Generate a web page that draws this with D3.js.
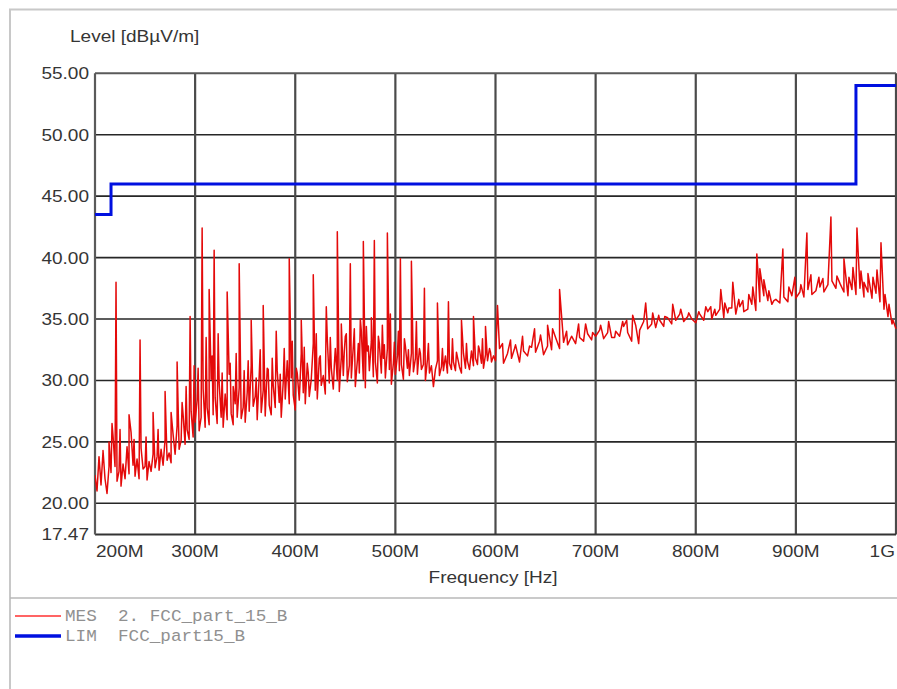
<!DOCTYPE html>
<html>
<head>
<meta charset="utf-8">
<script src="https://cdn.jsdelivr.net/npm/d3@7/dist/d3.min.js"></script>
<style>
  html, body { margin: 0; padding: 0; background: #fff; }
  svg { display: block; }
</style>
</head>
<body>
<svg id="chart" width="897" height="689"></svg>
<script>
// ---------------- DATA ----------------
// Axis ticks
const xTickValues = [200, 300, 400, 500, 600, 700, 800, 900, 1000];           // MHz
const xTickLabels = ["200M", "300M", "400M", "500M", "600M", "700M", "800M", "900M", "1G"];
const yTickValues = [17.47, 20, 25, 30, 35, 40, 45, 50, 55];
const yTickLabels = ["17.47", "20.00", "25.00", "30.00", "35.00", "40.00", "45.00", "50.00", "55.00"];

// Measurement (MES) noise floor, sweep 200–598 MHz in 2 MHz steps
const mesLowStartMHz = 200, mesLowStepMHz = 2;
const mesLowLevels = [
  22.3, 21.0, 23.8, 21.5, 24.2, 22.0, 20.8, 23.0, 22.5, 25.5, 23.0, 21.8, 22.6, 21.4, 23.2, 22.0, 24.6, 22.4, 25.8, 23.1,
  22.2, 23.6, 22.0, 24.5, 22.8, 23.0, 21.9, 23.4, 22.6, 24.0, 22.9, 23.8, 22.7, 24.4, 23.1, 25.2, 23.5, 24.1, 23.3, 25.6,
  24.0, 26.3, 24.4, 25.1, 27.2, 24.8, 26.0, 25.2, 27.5, 25.4, 26.6, 28.4, 25.9, 27.0, 29.3, 26.2, 27.8, 26.4, 30.1, 27.2,
  28.6, 26.5, 29.8, 27.0, 26.2, 28.9, 26.8, 30.5, 27.3, 26.4, 28.1, 27.0, 29.4, 26.9, 27.8, 26.6, 29.0, 27.5, 31.2, 27.9,
  28.7, 26.8, 30.4, 27.4, 29.2, 27.1, 31.0, 28.0, 27.2, 29.6, 27.8, 30.8, 28.2, 27.0, 29.9, 28.5, 31.6, 28.1, 30.2, 28.8,
  27.6, 30.6, 28.4, 32.2, 29.0, 28.1, 31.4, 28.7, 30.1, 33.0, 29.2, 28.5, 31.8, 29.6, 30.4, 28.9, 33.4, 29.8, 31.0, 29.3,
  32.6, 30.0, 29.1, 31.9, 30.4, 33.6, 29.9, 31.2, 30.2, 32.8, 29.5, 31.6, 30.6, 34.0, 30.1, 29.4, 32.4, 30.8, 33.2, 30.3,
  31.5, 29.8, 33.0, 30.6, 31.8, 30.2, 32.6, 30.9, 29.7, 31.4, 30.5, 32.0, 30.8, 31.3, 30.1, 32.8, 31.0, 30.4, 32.2, 30.7,
  31.8, 30.5, 32.6, 30.9, 31.3, 30.0, 31.7, 30.6, 31.2, 29.5, 30.9, 31.6, 30.4, 31.1, 30.8, 32.0, 30.6, 31.4, 30.9, 31.5,
  30.8, 31.9, 31.1, 30.6, 32.2, 31.0, 31.6, 30.9, 32.4, 31.2, 31.8, 31.3, 32.5, 31.4, 31.0, 32.1, 31.6, 32.6, 31.5, 32.0
];
// Measurement noise floor, sweep 600–1000 MHz in 4 MHz steps
const mesHighStartMHz = 600, mesHighStepMHz = 4;
const mesHighLevels = [
  31.6, 32.6, 31.4, 32.2, 31.8, 32.9, 31.5, 32.4, 32.0, 32.7,
  32.3, 33.2, 32.1, 32.8, 32.5, 33.5, 32.6, 33.1, 32.9, 33.6,
  33.0, 33.5, 33.2, 33.8, 33.3, 33.6, 34.1, 33.4, 33.9, 33.5,
  34.0, 33.6, 34.4, 33.9, 33.2, 34.5, 34.1, 34.8, 34.2, 34.6,
  34.3, 34.9, 34.4, 35.1, 34.6, 34.9, 35.4, 34.8, 35.2, 35.0,
  34.7, 35.4, 34.9, 35.6, 35.0, 35.3, 35.8, 35.1, 35.5, 35.9,
  35.4, 36.0, 35.6, 35.8, 36.2, 35.7, 36.4, 36.9, 36.5, 36.2,
  36.6, 36.3, 36.8, 36.4, 36.9, 36.7, 37.2, 36.8, 37.4, 37.0,
  37.3, 37.6, 37.2, 37.8, 38.1, 37.5, 37.9, 37.2, 36.9, 37.4,
  37.0, 37.5, 36.8, 37.2, 36.7, 37.1, 36.4, 35.8, 35.2, 34.6,
  34.2
];
// Measurement peaks (harmonics)
const peakFreqs = [221, 234, 245, 258, 270, 282, 295, 307, 314, 319, 332, 338, 344, 356, 368, 381, 394, 406, 418, 431,
                   442, 455, 468, 479, 492, 505, 516, 529, 542, 553, 566, 578, 590, 602, 615, 639, 652, 664, 690, 727,
                   750, 777, 810, 825, 837, 847, 861, 864, 878, 887, 899, 911, 923, 935, 948, 961, 972, 985, 997];
const peakLevels = [38.0, 27.2, 33.3, 27.4, 29.1, 31.5, 35.2, 42.4, 37.4, 40.6, 37.2, 29.5, 39.5, 34.9, 36.1, 34.0, 39.9, 34.9, 38.6, 36.0,
                    42.1, 39.5, 41.3, 41.4, 42.0, 39.9, 39.7, 37.5, 36.3, 36.4, 34.9, 35.2, 34.4, 36.1, 33.3, 34.2, 34.5, 37.4, 34.6, 34.8,
                    36.3, 36.2, 36.0, 37.4, 38.0, 36.5, 40.3, 39.1, 36.5, 40.7, 38.4, 42.0, 38.4, 43.3, 39.9, 42.4, 38.7, 41.2, 34.9];
// Minor spurs around the harmonics
const spurFreqs = [208, 214, 217, 225, 239, 251, 263, 276, 287, 291, 299,
                   303, 311, 317, 323, 327, 335, 341, 349, 353, 361, 365, 373, 377, 385, 389, 397,
                   401, 409, 413, 421, 425, 435, 439, 446, 449, 451, 459, 463, 465, 471, 473, 476, 483, 487, 489, 495, 499,
                   503, 509, 513, 521, 525, 533, 547, 557, 561, 571, 583, 587, 595,
                   607, 619, 627, 634, 645, 657, 671, 683, 697, 705, 713, 719, 731, 737, 743, 757, 763, 769, 785, 793,
                   803, 815, 819, 829, 833, 843, 853, 857, 868, 873, 893, 905, 915, 927, 941, 953, 957, 965, 968, 977, 981, 989, 993];
const spurLevels = [24.3, 25.0, 26.5, 26.0, 25.2, 25.4, 26.0, 27.4, 28.2, 29.5, 31.2,
                    31.0, 33.5, 32.0, 33.8, 30.6, 31.4, 32.2, 30.8, 31.6, 30.2, 32.5, 30.9, 31.8, 30.5, 32.6, 33.2,
                    31.0, 32.7, 30.6, 33.8, 32.0, 33.5, 31.2, 34.6, 32.4, 33.8, 34.2, 33.0, 35.0, 34.4, 32.8, 35.1, 33.6, 34.5, 32.9, 35.4, 33.1,
                    34.0, 33.4, 32.5, 34.8, 32.2, 33.0, 32.6, 33.4, 32.3, 33.0, 32.8, 33.4, 32.3,
                    33.0, 32.6, 33.6, 32.8, 33.7, 34.2, 34.0, 34.6, 33.9, 34.5, 34.8, 33.5, 34.9, 35.3, 33.0, 35.5, 35.3, 35.2, 35.8, 35.5,
                    35.6, 36.0, 35.8, 36.3, 35.9, 36.6, 37.0, 37.6, 38.2, 37.3, 37.6, 37.8, 38.6, 38.3, 38.5, 38.4, 39.2, 38.9, 38.0, 38.4, 39.0, 37.0, 36.2];

// Limit (LIM) FCC part 15 B, step function
const limFreqs = [200, 216, 960, 1000];
const limLevels = [43.5, 46.0, 54.0, 54.0];

const legendNames = ["MES", "LIM"];
const legendTexts = ["2. FCC_part_15_B", "FCC_part15_B"];
const yAxisTitle = "Level [dB\u00B5V/m]";
const xAxisTitle = "Frequency [Hz]";

// ---------------- BUILD ----------------
const mes = [];
mesLowLevels.forEach((v, i) => mes.push({ f: mesLowStartMHz + i * mesLowStepMHz, v }));
mesHighLevels.forEach((v, i) => mes.push({ f: mesHighStartMHz + i * mesHighStepMHz, v }));
peakFreqs.forEach((f, i) => mes.push({ f, v: peakLevels[i] }));
spurFreqs.forEach((f, i) => mes.push({ f, v: spurLevels[i] }));
mes.sort((a, b) => a.f - b.f);
const lim = limFreqs.map((f, i) => ({ f, v: limLevels[i] }));

const svg = d3.select("#chart");
const font = "'Liberation Sans', Arial, sans-serif";
const textColor = "#353535";
const SX = 1.12;   // horizontal stretch of the original lettering

function label(parent, x, y, str, anchor, size, opts = {}) {
  const g = parent.append("g").attr("transform", `translate(${x},${y}) scale(${opts.sx || SX},1)`);
  g.append("text").attr("x", 0).attr("y", 0).attr("text-anchor", anchor)
    .attr("font-family", opts.family || font).attr("font-size", size)
    .attr("fill", opts.fill || textColor).text(str);
  return g;
}

const L = 95, R = 896, T = 73.3, B = 534.4;
const x = d3.scaleLinear().domain([200, 1000]).range([L, R]);
const y = d3.scaleLinear().domain([17.47, 55]).range([B, T]);

// outer frame
svg.append("rect").attr("x", 10).attr("y", 9.5).attr("width", 900).attr("height", 700)
  .attr("fill", "none").attr("stroke", "#c8c8c8").attr("stroke-width", 2);
svg.append("line").attr("x1", 10).attr("x2", 897).attr("y1", 598).attr("y2", 598)
  .attr("stroke", "#b8b8b8").attr("stroke-width", 1.5);

// grid
const grid = svg.append("g");
grid.selectAll("line.h").data(yTickValues.filter(v => v > 17.47 && v < 55)).join("line")
  .attr("x1", L).attr("x2", R).attr("y1", d => y(d)).attr("y2", d => y(d))
  .attr("stroke", "#262626").attr("stroke-width", 1.6);
grid.selectAll("line.v").data(xTickValues.filter(v => v > 200)).join("line")
  .attr("y1", T).attr("y2", B).attr("x1", d => x(d)).attr("x2", d => x(d))
  .attr("stroke", "#4a4a4a").attr("stroke-width", 2.2);
// plot border (top / left / bottom)
svg.append("line").attr("x1", L).attr("x2", R).attr("y1", T).attr("y2", T).attr("stroke", "#5a5a5a").attr("stroke-width", 2);
svg.append("line").attr("x1", L).attr("x2", R).attr("y1", B).attr("y2", B).attr("stroke", "#333").attr("stroke-width", 2);
svg.append("line").attr("x1", L).attr("x2", L).attr("y1", T).attr("y2", B).attr("stroke", "#5a5a5a").attr("stroke-width", 2.2);

// clip
svg.append("clipPath").attr("id", "clip").append("rect")
  .attr("x", L).attr("y", T - 2).attr("width", R - L + 2).attr("height", B - T + 2);

const line = d3.line().x(d => x(d.f)).y(d => y(d.v));
svg.append("path").datum(mes).attr("clip-path", "url(#clip)")
  .attr("d", line).attr("fill", "none").attr("stroke", "#e40a0a").attr("stroke-width", 1.5)
  .attr("stroke-linejoin", "round");
svg.append("path").datum(lim).attr("clip-path", "url(#clip)")
  .attr("d", d3.line().x(d => x(d.f)).y(d => y(d.v)).curve(d3.curveStepAfter))
  .attr("fill", "none").attr("stroke", "#0010e0").attr("stroke-width", 3);

// y tick labels
const yl = svg.append("g");
yTickValues.forEach((v, i) => label(yl, 89, y(v) + 6, yTickLabels[i], "end", 17));

// x tick labels
const xl = svg.append("g");
xTickValues.forEach((v, i) => {
  const anchor = v === 200 ? "start" : (v === 1000 ? "end" : "middle");
  const px = v === 200 ? x(v) + 1 : (v === 1000 ? x(v) - 1 : x(v));
  label(xl, px, 557, xTickLabels[i], anchor, 17);
});

// axis titles
label(svg, 70, 42, yAxisTitle, "start", 17);
label(svg, 493, 583, xAxisTitle, "middle", 17);

// legend
const lg = svg.append("g");
const legendColors = ["#ff3030", "#0010e0"];
const legendWidths = [1.3, 3.5];
const legendY = [616, 636];
const mono = "'Liberation Mono', 'Courier New', monospace";
legendNames.forEach((n, i) => {
  lg.append("line").attr("x1", 15).attr("x2", 61).attr("y1", legendY[i]).attr("y2", legendY[i])
    .attr("stroke", legendColors[i]).attr("stroke-width", legendWidths[i]);
  label(lg, 65, legendY[i] + 5, n, "start", 16.5, { family: mono, fill: "#909090", sx: 1.07 });
  label(lg, 118, legendY[i] + 5, legendTexts[i], "start", 16.5, { family: mono, fill: "#909090", sx: 1.07 });
});
</script>
</body>
</html>
